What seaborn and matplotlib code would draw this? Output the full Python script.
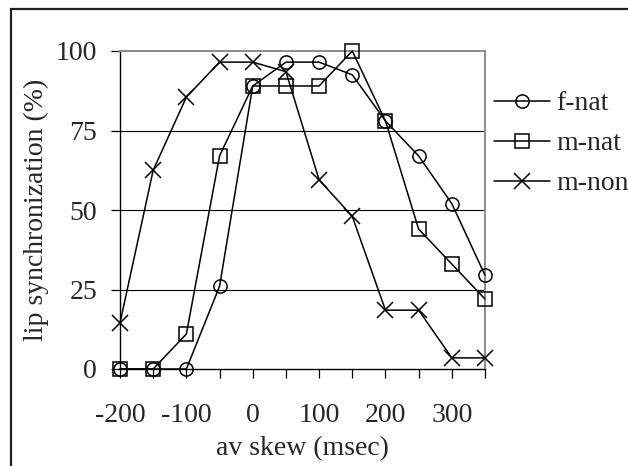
import matplotlib
matplotlib.use("Agg")
import matplotlib.pyplot as plt
import seaborn as sns
import pandas as pd
from matplotlib.patches import Rectangle

# Audio/video skew in milliseconds
skew = [-200, -150, -100, -50, 0, 50, 100, 150, 200, 250, 300, 350]

# Percentage of trials judged as lip-synchronized
f_nat = [0, 0, 0, 26, 89, 96.5, 96.5, 92.5, 78, 67, 52, 29.5]
m_nat = [0, 0, 11, 67, 89, 89, 89, 100, 78, 44, 33, 22]
m_non = [14.5, 62.5, 85.5, 96.5, 96.5, 93.5, 59.5, 48, 18.5, 18.5, 3.5, 3.5]

series_names = ["f-nat", "m-nat", "m-non"]
series_values = [f_nat, m_nat, m_non]
series_markers = ["o", "s", "x"]

y_ticks = [0, 25, 50, 75, 100]
x_tick_labels = ["-200", "", "-100", "", "0", "", "100", "", "200", "", "300", ""]

sns.set_theme(style="white")
plt.rcParams["font.family"] = ["Liberation Serif", "DejaVu Serif"]

fig = plt.figure(figsize=(6.28, 4.66), dpi=100)
ax = fig.add_axes([120 / 628, 1 - 369 / 466, 365 / 628, 318 / 466])

handles = []
for name, vals, mk in zip(series_names, series_values, series_markers):
    df = pd.DataFrame({"skew": skew, "sync": vals})
    sns.lineplot(
        data=df, x="skew", y="sync", color="black", marker=mk,
        markersize=9.5 if mk != "x" else 11, markerfacecolor="none",
        markeredgecolor="black", markeredgewidth=1.1, linewidth=1.1,
        ax=ax, clip_on=False, zorder=3,
    )
    handles.append(ax.get_lines()[-1])

ax.set_xlim(-200, 350)
ax.set_ylim(0, 100)
ax.set_xticks(skew)
ax.set_xticklabels(x_tick_labels)
ax.set_yticks(y_ticks)
ax.set_yticklabels([str(t) for t in y_ticks])

# Horizontal reference lines
for t in y_ticks[1:-1]:
    ax.axhline(t, color="black", linewidth=0.8, zorder=1)

for side in ["left", "bottom"]:
    ax.spines[side].set_color("black")
    ax.spines[side].set_linewidth(1.0)
for side in ["top", "right"]:
    ax.spines[side].set_visible(True)
    ax.spines[side].set_color("#8c8c8c")
    ax.spines[side].set_linewidth(1.4)

ax.tick_params(axis="both", which="both", direction="out", length=6.5,
               width=0.9, color="black", labelsize=20)
ax.tick_params(axis="x", bottom=True, pad=18)
ax.tick_params(axis="y", left=True, pad=10)

ax.set_xlabel("av skew (msec)", fontsize=20, labelpad=6)
ax.set_ylabel("lip synchronization (%)", fontsize=20, labelpad=5)

ax.legend(handles, series_names, loc="upper left",
          bbox_to_anchor=(494 / 628, 1 - 91 / 466),
          bbox_transform=fig.transFigure, frameon=False, fontsize=20,
          handlelength=2.0, handletextpad=0.25, labelspacing=0.52,
          borderaxespad=0, borderpad=0)

# Outer frame around the figure
fig.patches.append(Rectangle((11 / 628, -0.1), 1.2, 1 - 9 / 466 + 0.1,
                             transform=fig.transFigure, fill=False,
                             edgecolor="#222222", linewidth=1.6))

fig.savefig("out.png", dpi=100, facecolor="white")
